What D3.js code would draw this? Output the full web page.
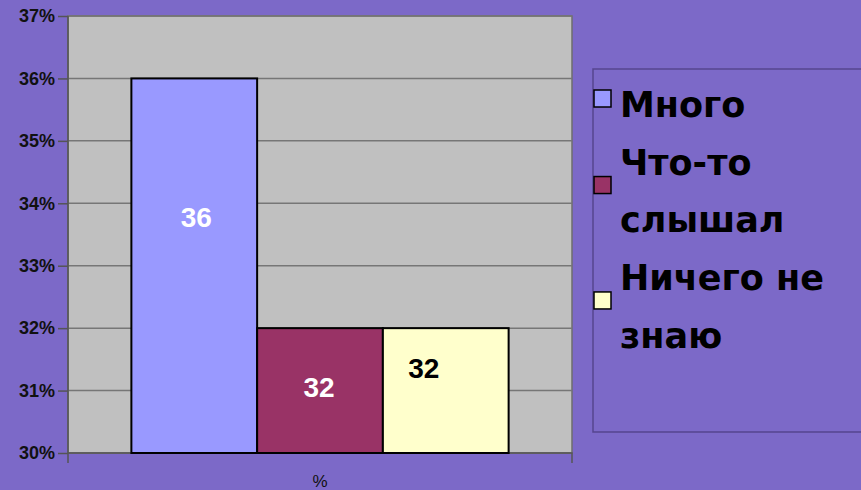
<!DOCTYPE html>
<html><head><meta charset="utf-8">
<script src="https://cdn.jsdelivr.net/npm/d3@7"></script>
<style>html,body{margin:0;padding:0;background:#7C69C8;}svg{display:block;}</style>
</head><body>
<script>
const categories = ["%"];
const seriesNames = ["Много", "Что-то слышал", "Ничего не знаю"];
const seriesValues = [36, 32, 32];
const seriesColors = ["#9999FF", "#993366", "#FFFFCC"];
const labelColors = ["#FFFFFF", "#FFFFFF", "#000000"];
const legendLines = [["Много"], ["Что-то", "слышал"], ["Ничего не", "знаю"]];
const yTicks = [30, 31, 32, 33, 34, 35, 36, 37];

const W = 861, H = 490;
const svg = d3.select("body").append("svg").attr("width", W).attr("height", H);
svg.append("rect").attr("width", W).attr("height", H).attr("fill", "#7C69C8");

const plot = {l: 68, r: 572, t: 16, b: 453};
const y = d3.scaleLinear().domain([30, 37]).range([plot.b, plot.t]);
const x0 = d3.scaleBand().domain(categories).range([plot.l, plot.r]).paddingOuter(0.168).paddingInner(0);
const x1 = d3.scaleBand().domain(seriesNames).range([0, x0.bandwidth()]).padding(0);

// plot background
svg.append("rect").attr("x", plot.l).attr("y", plot.t).attr("width", plot.r - plot.l).attr("height", plot.b - plot.t)
  .attr("fill", "#C0C0C0").attr("stroke", "#6E6E6E").attr("stroke-width", 1.5);

// gridlines
svg.append("g").selectAll("line").data(yTicks).join("line")
  .attr("x1", plot.l).attr("x2", plot.r).attr("y1", d => y(d)).attr("y2", d => y(d))
  .attr("stroke", "#767676").attr("stroke-width", 1.5);

// y axis
const yAxis = d3.axisLeft(y).tickValues(yTicks).tickFormat(d => d + "%").tickSize(10).tickPadding(3);
const ga = svg.append("g").attr("transform", `translate(${plot.l},0)`).call(yAxis);
ga.select(".domain").attr("stroke", "#555").attr("stroke-width", 1.5).attr("d", `M-0,${plot.t}V${plot.b + 10}`);
ga.selectAll(".tick line").attr("stroke", "#555").attr("stroke-width", 1.5);
ga.selectAll(".tick text").attr("font-family", "Liberation Sans, Arial, sans-serif").attr("font-weight", "bold")
  .attr("font-size", 18).attr("fill", "#111");

// x axis
const xAxis = d3.axisBottom(x0).tickSize(0).tickPadding(22);
const gx = svg.append("g").attr("transform", `translate(0,${plot.b})`).call(xAxis);
gx.select(".domain").attr("stroke", "#555").attr("stroke-width", 1.5).attr("d", `M${plot.l},0H${plot.r}V10`);
gx.selectAll(".tick text").attr("font-family", "Liberation Sans, Arial, sans-serif").attr("font-size", 17).attr("fill", "#111");

// bars
const g = svg.append("g").attr("transform", `translate(${x0(categories[0])},0)`);
g.selectAll("rect").data(seriesValues).join("rect")
  .attr("x", (d, i) => x1(seriesNames[i])).attr("width", x1.bandwidth())
  .attr("y", d => y(d)).attr("height", d => y(30) - y(d))
  .attr("fill", (d, i) => seriesColors[i]).attr("stroke", "#000").attr("stroke-width", 2);

// data labels
const labelOffsets = [[2, -49], [-1, -4], [-22, -23]];
g.selectAll("text.lbl").data(seriesValues).join("text").attr("class", "lbl")
  .attr("x", (d, i) => x1(seriesNames[i]) + x1.bandwidth() / 2 + labelOffsets[i][0])
  .attr("y", (d, i) => (y(d) + y(30)) / 2 + labelOffsets[i][1])
  .attr("dy", "0.36em").attr("text-anchor", "middle")
  .attr("font-family", "Liberation Sans, Arial, sans-serif").attr("font-weight", "bold").attr("font-size", 28)
  .attr("fill", (d, i) => labelColors[i]).text(d => d);

// legend
svg.append("rect").attr("x", 593).attr("y", 69).attr("width", 300).attr("height", 363)
  .attr("fill", "none").attr("stroke", "#55458F").attr("stroke-width", 1.5);
const step = 57.7;
let line = 0;
const lg = svg.append("g");
legendLines.forEach((lines, i) => {
  const base = 117 + line * step;
  const cy = base - 18 + (lines.length - 1) * step / 2;
  lg.append("rect").attr("x", 594).attr("y", cy - 9).attr("width", 17).attr("height", 17)
    .attr("fill", seriesColors[i]).attr("stroke", "#000").attr("stroke-width", 1.5);
  lines.forEach((t, j) => {
    lg.append("text").attr("x", 620).attr("y", base + j * step)
      .attr("font-family", "DejaVu Sans, Verdana, sans-serif").attr("font-weight", "bold").attr("font-size", 35)
      .attr("fill", "#000").text(t);
  });
  line += lines.length;
});
</script>
</body></html>
